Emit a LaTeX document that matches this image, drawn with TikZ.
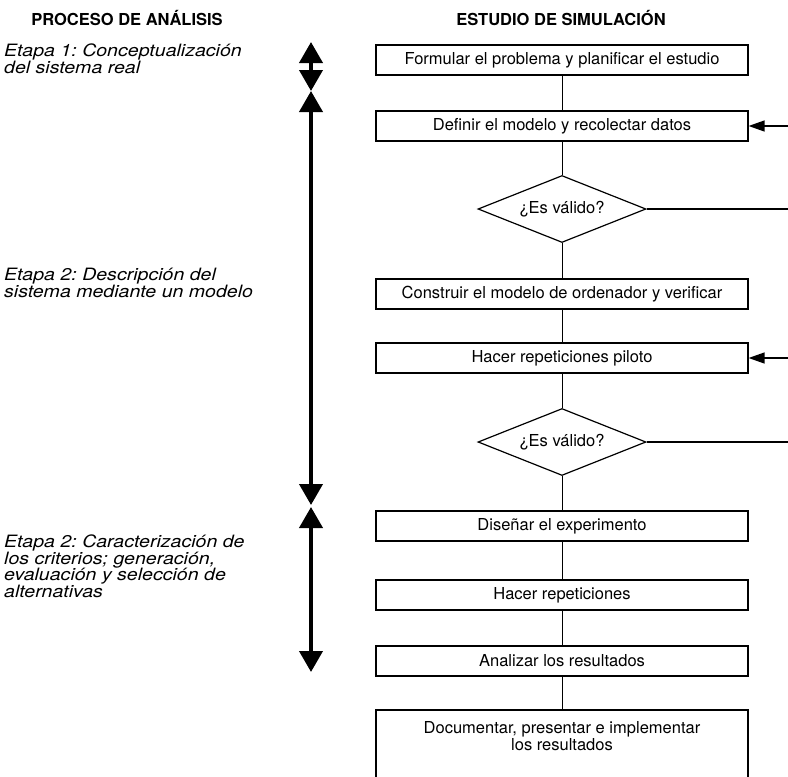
\documentclass[tikz,border=0pt]{standalone}
\usepackage{fontspec}
\usetikzlibrary{arrows.meta,shapes.geometric}
\newfontfamily\boxfont{TeX Gyre Heros}
\newfontfamily\headfont{TeX Gyre Heros}
\newfontfamily\stagefont{TeX Gyre Heros}[FakeStretch=1.15]
\frenchspacing
\begin{document}
\begin{tikzpicture}[x=1pt,y=-1pt,
  heading/.style={font=\headfont\bfseries\fontsize{16.5}{18}\selectfont, inner sep=0pt},
  stage/.style={font=\stagefont\itshape\fontsize{17}{16.5}\selectfont, align=left, anchor=north west, inner sep=0pt},
  stepbox/.style={draw, line width=1.2pt, minimum width=372pt, minimum height=30pt, inner sep=0pt,
    font=\boxfont\fontsize{16.5}{18}\selectfont},
  check/.style={draw, diamond, aspect=2.5, line width=1.2pt, minimum width=168pt, minimum height=67pt, inner sep=0pt,
    font=\boxfont\fontsize{16.5}{18}\selectfont},
  flow/.style={line width=0.9pt},
  back/.style={line width=1.3pt},
  backarrow/.style={line width=1.3pt, -{Triangle[length=16pt,width=11pt]}},
  phase/.style={line width=4pt, {Triangle[length=21pt,width=23pt]}-{Triangle[length=21pt,width=23pt]}}
]
\useasboundingbox (0,0) rectangle (788,777);

% column headings
\node[heading] (h1) at (127,18) {PROCESO DE ANÁLISIS};
\node[heading] (h2) at (561,18) {ESTUDIO DE SIMULACIÓN};

% stages of the analysis process
\node[stage] (s1) at (4,44) {Etapa 1: Conceptualización\\del sistema real};
\node[stage] (s2) at (4,268) {Etapa 2: Descripción del\\sistema mediante un modelo};
\node[stage] (s3) at (4,535) {Etapa 2: Caracterización de\\los criterios; generación,\\evaluación y selección de\\alternativas};

% double arrows marking the extent of each stage
\coordinate (p0) at (311,42);
\coordinate (p1) at (311,91);
\coordinate (p2) at (311,505);
\coordinate (p3) at (311,507);
\coordinate (p4) at (311,672);
\draw[phase] (p0) -- (p1);
\draw[phase] (p1) -- (p2);
\draw[phase] (p3) -- (p4);

% simulation study steps
\node[stepbox] (b1) at (562,60) {Formular el problema y planificar el estudio};
\node[stepbox] (b2) at (562,126) {Definir el modelo y recolectar datos};
\node[check]   (d1) at (562,209) {¿Es válido?};
\node[stepbox] (b3) at (562,294) {Construir el modelo de ordenador y verificar};
\node[stepbox] (b4) at (562,358) {Hacer repeticiones piloto};
\node[check]   (d2) at (562,442) {¿Es válido?};
\node[stepbox] (b5) at (562,526) {Diseñar el experimento};
\node[stepbox] (b6) at (562,595) {Hacer repeticiones};
\node[stepbox] (b7) at (562,661) {Analizar los resultados};
\node[font=\boxfont\fontsize{16.5}{17}\selectfont, align=center, anchor=north, inner sep=0pt] (b8) at (562,721)
  {Documentar, presentar e implementar\\los resultados};
\coordinate (b8tl) at (376,710);
\coordinate (b8tr) at (748,710);
\coordinate (b8bl) at (376,777);
\coordinate (b8br) at (748,777);
\draw[line width=1.2pt] (b8bl) -- (b8tl) -- (b8tr) -- (b8br);

% main flow
\draw[flow] (b1) -- (b2);
\draw[flow] (b2) -- (d1);
\draw[flow] (d1) -- (b3);
\draw[flow] (b3) -- (b4);
\draw[flow] (b4) -- (d2);
\draw[flow] (d2) -- (b5);
\draw[flow] (b5) -- (b6);
\draw[flow] (b6) -- (b7);
\draw[flow] (b7.south) -- (b8.north |- b8tl);

% feedback from the validity checks
\coordinate (r1) at (788,209);
\coordinate (r2) at (788,126);
\coordinate (r3) at (788,442);
\coordinate (r4) at (788,358);
\draw[back] (d1.east) -- (r1);
\draw[backarrow] (r2) -- (b2.east);
\draw[back] (d2.east) -- (r3);
\draw[backarrow] (r4) -- (b4.east);
\end{tikzpicture}
\end{document}
